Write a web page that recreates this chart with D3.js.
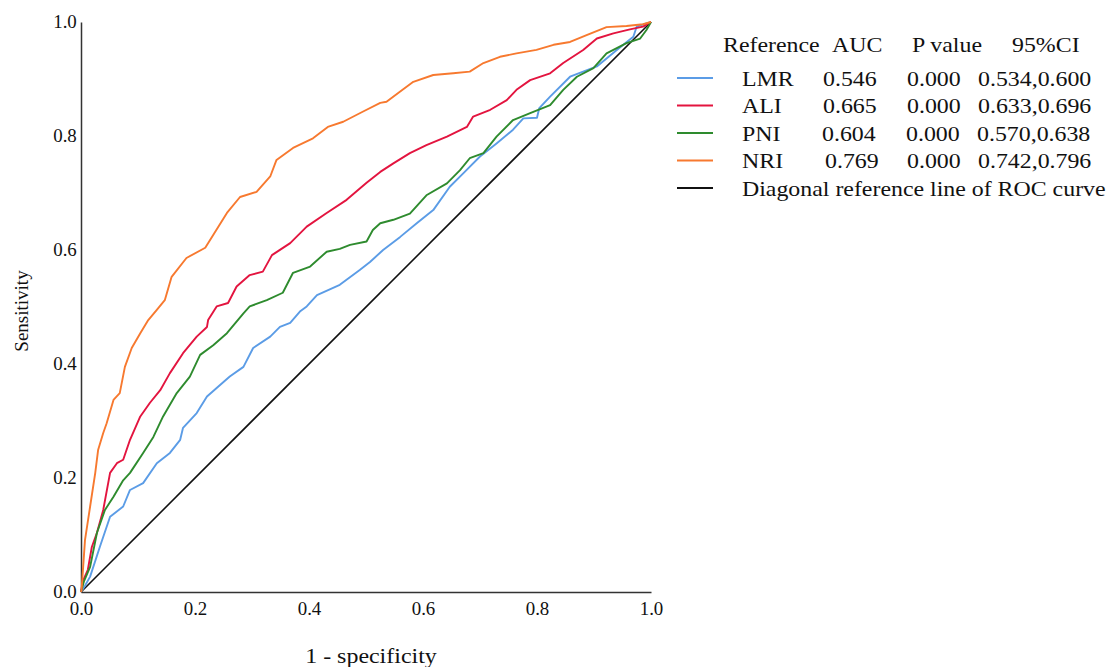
<!DOCTYPE html>
<html><head><meta charset="utf-8">
<script src="https://cdn.jsdelivr.net/npm/d3@7"></script>
<style>body{margin:0;background:#fff}svg{display:block}text{font-family:"Liberation Serif","Times New Roman",serif;fill:#111}</style>
</head><body><svg id="c" width="1111" height="667"></svg>
<script>
const ticks = [0, 0.2, 0.4, 0.6, 0.8, 1.0];
const seriesNames = ["LMR", "ALI", "PNI", "NRI"];
const aucValues = ["0.546", "0.665", "0.604", "0.769"];
const pValues = ["0.000", "0.000", "0.000", "0.000"];
const ciValues = ["0.534,0.600", "0.633,0.696", "0.570,0.638", "0.742,0.796"];
const seriesColors = ["#5b9ce6", "#e3143f", "#2e8b2e", "#f7792f"];
const diagonalLabel = "Diagonal reference line of ROC curve";
const headers = ["Reference", "AUC", "P value", "95%CI"];

const lmr = [[0,0],[0.007,0.011],[0.016,0.027],[0.033,0.079],[0.051,0.132],[0.074,0.150],[0.086,0.179],[0.109,0.191],[0.133,0.226],[0.156,0.244],[0.174,0.267],[0.179,0.288],[0.203,0.314],[0.221,0.343],[0.238,0.358],[0.261,0.378],[0.285,0.395],[0.302,0.428],[0.332,0.448],[0.349,0.465],[0.367,0.472],[0.384,0.492],[0.396,0.501],[0.414,0.521],[0.454,0.539],[0.489,0.565],[0.507,0.579],[0.530,0.600],[0.560,0.623],[0.589,0.647],[0.618,0.670],[0.647,0.711],[0.671,0.735],[0.700,0.764],[0.729,0.787],[0.758,0.811],[0.776,0.831],[0.800,0.832],[0.804,0.849],[0.823,0.869],[0.858,0.904],[0.905,0.922],[0.940,0.951],[0.969,0.974],[0.975,0.992],[1,1]];
const ali = [[0,0],[0.004,0.021],[0.012,0.039],[0.019,0.079],[0.028,0.104],[0.039,0.144],[0.051,0.209],[0.063,0.226],[0.074,0.232],[0.086,0.267],[0.104,0.308],[0.121,0.332],[0.139,0.354],[0.156,0.384],[0.179,0.419],[0.203,0.448],[0.221,0.465],[0.223,0.477],[0.238,0.501],[0.258,0.507],[0.273,0.536],[0.296,0.556],[0.319,0.562],[0.335,0.591],[0.367,0.612],[0.396,0.641],[0.431,0.665],[0.466,0.688],[0.501,0.718],[0.525,0.737],[0.548,0.752],[0.577,0.770],[0.606,0.784],[0.642,0.799],[0.677,0.816],[0.688,0.834],[0.718,0.846],[0.747,0.863],[0.764,0.881],[0.788,0.898],[0.823,0.910],[0.846,0.928],[0.881,0.951],[0.905,0.971],[0.934,0.980],[0.963,0.987],[0.986,0.992],[1,1]];
const pni = [[0,0],[0.005,0.018],[0.016,0.044],[0.028,0.104],[0.042,0.144],[0.057,0.167],[0.074,0.196],[0.086,0.209],[0.109,0.244],[0.127,0.272],[0.144,0.308],[0.168,0.349],[0.191,0.378],[0.209,0.416],[0.232,0.433],[0.256,0.454],[0.285,0.489],[0.296,0.501],[0.326,0.512],[0.354,0.525],[0.372,0.560],[0.402,0.571],[0.431,0.597],[0.454,0.602],[0.472,0.609],[0.501,0.615],[0.512,0.635],[0.525,0.647],[0.548,0.653],[0.577,0.664],[0.606,0.696],[0.642,0.717],[0.665,0.740],[0.682,0.761],[0.706,0.770],[0.729,0.799],[0.758,0.828],[0.788,0.840],[0.823,0.854],[0.846,0.881],[0.870,0.904],[0.899,0.919],[0.922,0.945],[0.957,0.963],[0.981,0.971],[0.992,0.986],[1,1]];
const nri = [[0,0],[0.001,0.004],[0.007,0.091],[0.016,0.150],[0.025,0.209],[0.030,0.249],[0.039,0.279],[0.045,0.296],[0.057,0.337],[0.068,0.349],[0.077,0.395],[0.089,0.428],[0.104,0.454],[0.118,0.477],[0.133,0.495],[0.147,0.512],[0.159,0.553],[0.185,0.586],[0.218,0.604],[0.256,0.665],[0.279,0.693],[0.308,0.702],[0.332,0.729],[0.343,0.758],[0.372,0.779],[0.407,0.796],[0.433,0.816],[0.460,0.825],[0.495,0.843],[0.525,0.858],[0.536,0.860],[0.560,0.878],[0.583,0.895],[0.618,0.907],[0.653,0.910],[0.682,0.913],[0.706,0.928],[0.735,0.939],[0.764,0.945],[0.799,0.951],[0.829,0.960],[0.858,0.965],[0.887,0.977],[0.922,0.991],[0.957,0.993],[0.986,0.996],[1,1]];
const seriesData = [lmr, ali, pni, nri];
const diagonal = [[0,0],[1,1]];

const svg = d3.select("#c");
const x = d3.scaleLinear().domain([0,1]).range([81,651]);
const y = d3.scaleLinear().domain([0,1]).range([592,22]);

function addText(px, py, str, size, sx, anchor) {
  return svg.append("text")
    .attr("transform", `translate(${px},${py}) scale(${sx},1)`)
    .attr("font-size", size)
    .attr("text-anchor", anchor || "start")
    .text(str);
}

// axes
const tickSx = 1.05;
const xa = svg.append("g").attr("transform","translate(0,592)")
  .call(d3.axisBottom(x).tickValues(ticks).tickFormat(d3.format(".1f")).tickSize(0).tickPadding(8));
const ya = svg.append("g").attr("transform","translate(81,0)")
  .call(d3.axisLeft(y).tickValues(ticks).tickFormat(d3.format(".1f")).tickSize(0).tickPadding(4));
[xa, ya].forEach(g => {
  g.select(".domain").attr("stroke","#333").attr("stroke-width",1.5);
  g.selectAll("text").attr("font-size",18).attr("font-family","Liberation Serif").attr("fill","#111")
    .attr("transform",`scale(${tickSx},1)`);
});
xa.selectAll("text").attr("dy","0.85em");

const line = d3.line().x(d=>x(d[0])).y(d=>y(d[1]));
svg.append("path").datum(diagonal).attr("d",line).attr("fill","none").attr("stroke","#111").attr("stroke-width",1.6);
seriesData.forEach((s,i)=>{
  svg.append("path").datum(s).attr("d",line).attr("fill","none")
    .attr("stroke",seriesColors[i]).attr("stroke-width",1.9).attr("stroke-linejoin","round");
});

// axis titles
addText(371, 663, "1 - specificity", 21, 1.14, "middle");
svg.append("text").attr("transform","translate(28,311) rotate(-90)").attr("text-anchor","middle").attr("font-size",19).text("Sensitivity");

// legend
const fs = 22, lsx = 1.085;
const hx = [723, 832, 912, 1012];
headers.forEach((h,i)=> addText(hx[i], 51.5, h, fs, lsx));
const rowY = [78, 105.5, 133, 160.5];
const nameX = 742, aucX = [823,823,822,825], pX = [907,907,906,907], ciX = [978,978,977,978];
seriesNames.forEach((n,i)=>{
  svg.append("line").attr("x1",677).attr("x2",713).attr("y1",rowY[i]).attr("y2",rowY[i]).attr("stroke",seriesColors[i]).attr("stroke-width",2);
  addText(nameX, rowY[i]+7.5, n, fs, lsx);
  addText(aucX[i], rowY[i]+7.5, aucValues[i], fs, lsx);
  addText(pX[i], rowY[i]+7.5, pValues[i], fs, lsx);
  addText(ciX[i], rowY[i]+7.5, ciValues[i], fs, lsx);
});
svg.append("line").attr("x1",677).attr("x2",713).attr("y1",188).attr("y2",188).attr("stroke","#111").attr("stroke-width",2);
addText(nameX, 195.5, diagonalLabel, fs, lsx);
</script></body></html>
